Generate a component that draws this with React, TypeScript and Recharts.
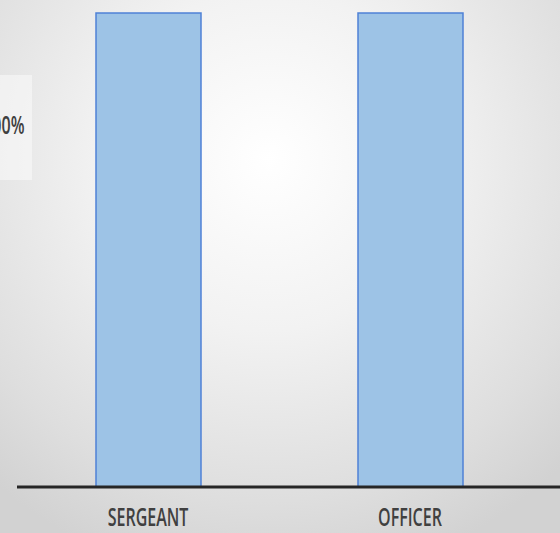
import React from "react";
import { BarChart, Bar, XAxis, YAxis } from "recharts";

const ranks = ["SERGEANT", "OFFICER"];
const shares = [100, 100];

const data = ranks.map((rank, i) => ({ rank, share: shares[i] }));

const labelFont = "'Open Sans', 'Liberation Sans', sans-serif";

const RankTick = ({ x, y, payload }: any) => (
  <g transform={`translate(${x},${y})`}>
    <text
      transform="scale(0.64,1)"
      textAnchor="middle"
      dy="0.71em"
      fill="#404040"
      fontSize={25}
      fontWeight={600}
      fontFamily={labelFont}
    >
      {payload.value}
    </text>
  </g>
);

const App = () => {
  return (
    <div
      style={{
        position: "absolute",
        left: 0,
        top: 0,
        width: 560,
        height: 533,
        overflow: "hidden",
        background:
          "radial-gradient(ellipse 75% 80% at 48% 30%, #ffffff 0%, #f2f2f2 40%, #dedede 80%, #d2d2d2 100%)",
      }}
    >
      <div
        style={{
          position: "absolute",
          left: 0,
          top: 75,
          width: 32,
          height: 105,
          background: "rgba(255,255,255,0.45)",
        }}
      />
      <div
        style={{
          position: "absolute",
          right: 536,
          top: 107,
          fontFamily: labelFont,
          fontSize: 25,
          fontWeight: 600,
          color: "#404040",
          whiteSpace: "nowrap",
          transform: "scaleX(0.64)",
          transformOrigin: "right center",
        }}
      >
        100%
      </div>
      <BarChart
        width={560}
        height={533}
        data={data}
        margin={{ top: 13, right: 0, left: 17, bottom: 0 }}
        style={{ position: "absolute", left: 0, top: 0 }}
      >
        <YAxis hide domain={[0, 100]} />
        <XAxis
          dataKey="rank"
          height={46}
          padding={{ left: 0, right: 19 }}
          axisLine={{ stroke: "#262626", strokeWidth: 3 }}
          tickLine={false}
          tickSize={0}
          tickMargin={21}
          tick={<RankTick />}
        />
        <Bar
          dataKey="share"
          barSize={105}
          fill="#9DC3E6"
          stroke="#4F81D6"
          strokeWidth={1.5}
          isAnimationActive={false}
        />
      </BarChart>
    </div>
  );
};

export default App;
